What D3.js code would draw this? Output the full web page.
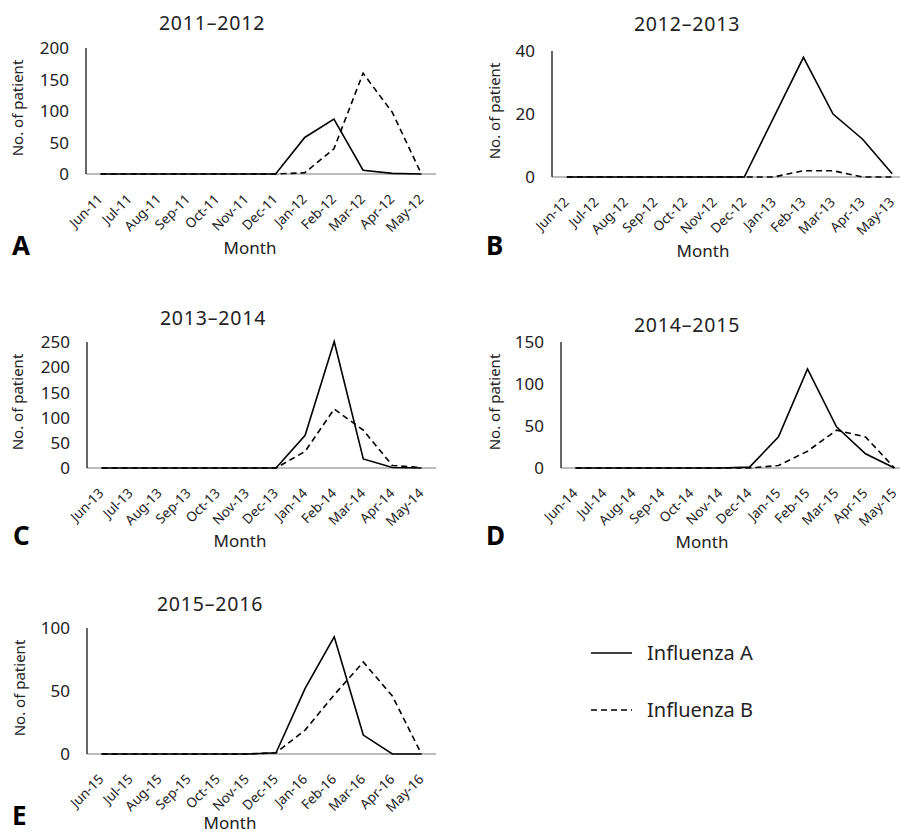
<!DOCTYPE html>
<html lang="en">
  <head>
    <meta charset="utf-8" />
    <title>Influenza by season</title>
    <style>
      body {
        margin: 0;
        background: #fff;
        font-family: "Noto Sans", sans-serif;
      }
      svg {
        display: block;
      }
      .ytick {
        font-size: 17px;
        fill: #222;
      }
      .xtick {
        font-size: 13.5px;
        fill: #222;
      }
      .title {
        font-size: 19.5px;
        letter-spacing: 0.8px;
        fill: #222;
      }
      .axis-title {
        font-size: 15px;
        fill: #222;
      }
      .month {
        font-size: 17px;
        fill: #222;
      }
      .letter {
        font-size: 26px;
        font-weight: bold;
        fill: #000;
      }
    </style>
  </head>
  <body>
    <svg width="900" height="836"></svg>

    <script src="https://d3js.org/d3.v7.min.js"></script>
    <script>
      // data
      const monthNames = ["Jun", "Jul", "Aug", "Sep", "Oct", "Nov", "Dec", "Jan", "Feb", "Mar", "Apr", "May"];
      const seasons = ["2011–2012", "2012–2013", "2013–2014", "2014–2015", "2015–2016"];
      const startYears = [11, 12, 13, 14, 15];
      const panelLetters = ["A", "B", "C", "D", "E"];
      const yMax = [200, 40, 250, 150, 100];
      const yTicks = [
        [0, 50, 100, 150, 200],
        [0, 20, 40],
        [0, 50, 100, 150, 200, 250],
        [0, 50, 100, 150],
        [0, 50, 100],
      ];
      const fluA = [
        [0, 0, 0, 0, 0, 0, 0, 58, 87, 6, 1, 0],
        [0, 0, 0, 0, 0, 0, 0, 19, 38, 20, 12, 1],
        [0, 0, 0, 0, 0, 0, 0, 65, 251, 18, 1, 0],
        [0, 0, 0, 0, 0, 0, 1, 37, 118, 49, 17, 0],
        [0, 0, 0, 0, 0, 0, 1, 52, 93, 15, 0, 0],
      ];
      const fluB = [
        [0, 0, 0, 0, 0, 0, 0, 2, 40, 160, 98, 0],
        [0, 0, 0, 0, 0, 0, 0, 0, 2, 2, 0, 0],
        [0, 0, 0, 0, 0, 0, 0, 33, 117, 75, 5, 1],
        [0, 0, 0, 0, 0, 0, 0, 3, 20, 45, 37, 0],
        [0, 0, 0, 0, 0, 0, 1, 19, 47, 73, 46, 0],
      ];
      const seriesNames = ["Influenza A", "Influenza B"];

      // panel placement
      const layout = [
        { x: 86, y: 48, w: 350, titleDx: 126, titleY: 30, monthDx: 164, monthDy: 80, letterX: 12, letterY: 255, yTitleX: 18 },
        { x: 552, y: 51, w: 355, titleDx: 135, titleY: 31, monthDx: 151, monthDy: 80, letterX: 486, letterY: 255, yTitleX: 495 },
        { x: 87, y: 342, w: 349, titleDx: 126, titleY: 325, monthDx: 153, monthDy: 79, letterX: 13, letterY: 545, yTitleX: 18 },
        { x: 561, y: 342, w: 348, titleDx: 126, titleY: 332, monthDx: 141, monthDy: 80, letterX: 486, letterY: 545, yTitleX: 495 },
        { x: 87, y: 628, w: 349, titleDx: 123, titleY: 611, monthDx: 143, monthDy: 75, letterX: 12, letterY: 825, yTitleX: 20 },
      ];
      const plotH = 126;
      const dash = "6,4";

      const svg = d3.select("svg");

      seasons.forEach((season, i) => drawPanel(season, i));
      drawLegend();

      function drawPanel(season, i) {
        const L = layout[i];
        const cats = monthNames.map((m, k) => m + "-" + (k < 7 ? startYears[i] : startYears[i] + 1));
        const x = d3.scaleBand().domain(cats).range([L.x, L.x + L.w]);
        const y = d3.scaleLinear().domain([0, yMax[i]]).range([L.y + plotH, L.y]);
        const cx = (c) => x(c) + x.bandwidth() / 2;
        const g = svg.append("g");

        // x baseline (grey) and y axis (black)
        g.append("line")
          .attr("x1", L.x)
          .attr("x2", L.x + L.w)
          .attr("y1", y(0))
          .attr("y2", y(0))
          .attr("stroke", "#a6a6a6")
          .attr("stroke-width", 1.5);
        g.append("line")
          .attr("x1", L.x)
          .attr("x2", L.x)
          .attr("y1", y(0))
          .attr("y2", y(yMax[i]))
          .attr("stroke", "#000")
          .attr("stroke-width", 1.2);

        g.selectAll(".ytick")
          .data(yTicks[i])
          .join("text")
          .attr("class", "ytick")
          .attr("x", L.x - 17)
          .attr("y", (d) => y(d))
          .attr("dy", "0.36em")
          .attr("text-anchor", "end")
          .text((d) => d);

        g.selectAll(".xtick")
          .data(cats)
          .join("text")
          .attr("class", "xtick")
          .attr("text-anchor", "end")
          .attr("transform", (d) => `translate(${cx(d) + 3},${y(0) + 26}) rotate(-45)`)
          .text((d) => d);

        const line = d3
          .line()
          .x((d, k) => cx(cats[k]))
          .y((d) => y(d));

        g.append("path")
          .attr("d", line(fluB[i]))
          .attr("fill", "none")
          .attr("stroke", "#000")
          .attr("stroke-width", 1.6)
          .attr("stroke-dasharray", dash);
        g.append("path")
          .attr("d", line(fluA[i]))
          .attr("fill", "none")
          .attr("stroke", "#000")
          .attr("stroke-width", 1.6);

        g.append("text")
          .attr("class", "title")
          .attr("x", L.x + L.titleDx)
          .attr("y", L.titleY)
          .attr("text-anchor", "middle")
          .text(season);

        g.append("text")
          .attr("class", "axis-title")
          .attr("transform", `translate(${L.yTitleX + 5},${L.y + plotH / 2 - 3}) rotate(-90)`)
          .attr("text-anchor", "middle")
          .text("No. of patient");

        g.append("text")
          .attr("class", "month")
          .attr("x", L.x + L.monthDx)
          .attr("y", y(0) + L.monthDy)
          .attr("text-anchor", "middle")
          .text("Month");

        g.append("text")
          .attr("class", "letter")
          .attr("x", L.letterX)
          .attr("y", L.letterY)
          .text(panelLetters[i]);
      }

      function drawLegend() {
        const lg = svg.append("g");
        const rows = [653, 710];
        seriesNames.forEach((name, k) => {
          lg.append("line")
            .attr("x1", 591)
            .attr("x2", 632)
            .attr("y1", rows[k])
            .attr("y2", rows[k])
            .attr("stroke", "#000")
            .attr("stroke-width", 1.6)
            .attr("stroke-dasharray", k === 1 ? dash : null);
          lg.append("text")
            .attr("x", 647)
            .attr("y", rows[k])
            .attr("dy", "0.36em")
            .attr("font-size", 20)
            .attr("fill", "#222")
            .text(name);
        });
      }
    </script>
  </body>
</html>
